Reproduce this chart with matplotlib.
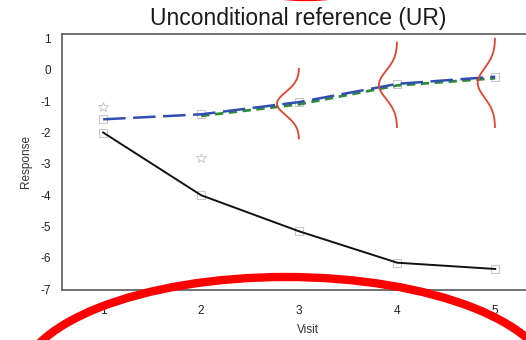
import numpy as np
import matplotlib
matplotlib.use("Agg")
import matplotlib.pyplot as plt
from matplotlib.patches import Ellipse

plt.rcParams['font.family'] = ['Liberation Sans', 'DejaVu Sans']
plt.rcParams['axes.unicode_minus'] = False

visits = [1, 2, 3, 4, 5]
observed = [-2.0, -4.0, -5.15, -6.15, -6.35]
ur_mean = [-1.58, -1.42, -1.03, -0.45, -0.22]
green_visits = [2, 3, 4, 5]
green_mean = [-1.47, -1.1, -0.5, -0.27]
star_visits = [1, 2]
star_values = [-1.2, -2.8]

dens_visits = [3, 4, 5]
dens_mean = [-1.08, -0.48, -0.42]
dens_sd = [0.37, 0.45, 0.47]
dens_scale = 0.21

W, H = 526, 340
fig = plt.figure(figsize=(W / 100, H / 100), dpi=100)
ax = fig.add_axes([62 / W, 1 - 290 / H, 492 / W, 256 / H])
ax.set_xlim(0.58, 5.6)
ax.set_ylim(-7.02, 1.14)

grey = '#c8c8c8'
ax.plot(visits, observed, color='#111111', lw=1.4, zorder=3)
ax.plot(visits, observed, ls='none', marker='s', ms=5.5, mfc='none', mec=grey, mew=0.8, zorder=2)
ax.plot(green_visits, green_mean, color='#2e8b3a', lw=2.0, ls=(0, (3, 2)), zorder=3)
ax.plot(visits, ur_mean, color='#2f4fb0', lw=1.8, ls=(0, (9, 3)), zorder=4)
ax.plot(visits, ur_mean, ls='none', marker='s', ms=5.5, mfc='none', mec=grey, mew=0.8, zorder=2)
ax.plot(star_visits, star_values, ls='none', marker='*', ms=7, mfc='none', mec=grey, mew=0.7, zorder=2)

# normal density curves at the later visits
for v, m, s in zip(dens_visits, dens_mean, dens_sd):
    y = np.linspace(m - 3 * s, m + 3 * s, 200)
    pdf = np.exp(-0.5 * ((y - m) / s) ** 2) / (s * np.sqrt(2 * np.pi))
    ax.plot(v - dens_scale * pdf, y, color='#e8432e', lw=1.3, zorder=5)

ax.set_xticks(visits)
ax.set_yticks(range(-7, 2))
ax.tick_params(axis='x', length=0, labelsize=8.5, colors='#222222', pad=11)
ax.tick_params(axis='y', length=0, labelsize=8.5, colors='#222222', pad=8)
for side in ['left', 'bottom', 'top']:
    ax.spines[side].set_color('#666666')
    ax.spines[side].set_linewidth(1.3)
ax.spines['right'].set_visible(False)
ax.set_xlabel('Visit', fontsize=8.5, color='#333333', labelpad=5)
ax.set_ylabel('Response', fontsize=8.5, color='#333333', labelpad=6)

fig.text(298 / W, 1 - 19 / H, 'Unconditional reference (UR)', fontsize=16.5,
         ha='center', va='center', color='#1a1a1a')

# red highlight rings
def px_ellipse(cx, cy, w, h):
    return Ellipse((cx / W, 1 - cy / H), w / W, h / H, transform=fig.transFigure,
                   fill=False, ec='#ff0000', lw=6, zorder=10, clip_on=False)

fig.add_artist(px_ellipse(286, 383, 532, 212))
fig.add_artist(px_ellipse(306, -41, 190, 76))

fig.savefig('out.png', dpi=100)
